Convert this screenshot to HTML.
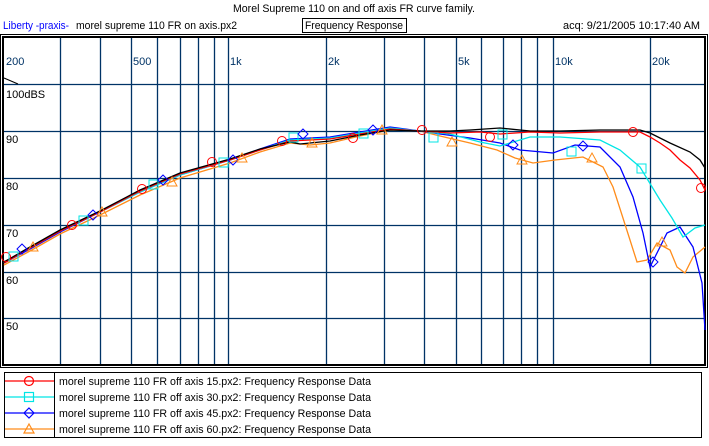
<!DOCTYPE html>
<html><head><meta charset="utf-8"><style>
body{margin:0;background:#fff;width:709px;height:441px;overflow:hidden;font-family:"Liberation Sans",sans-serif}
</style></head><body>
<svg width="709" height="441" xmlns="http://www.w3.org/2000/svg" font-family="Liberation Sans, sans-serif" font-size="11">
<rect width="709" height="441" fill="#fff"/>
<text x="233" y="12" textLength="242" lengthAdjust="spacingAndGlyphs" fill="#000">Morel Supreme 110 on and off axis FR curve family.</text>
<text x="3" y="29" textLength="66" lengthAdjust="spacingAndGlyphs" fill="#0000ff">Liberty -praxis-</text>
<text x="76" y="29" textLength="161" lengthAdjust="spacingAndGlyphs" fill="#000">morel supreme 110 FR on axis.px2</text>
<rect x="302.5" y="18.5" width="104" height="14" fill="none" stroke="#000"/>
<text x="305" y="29" textLength="98" lengthAdjust="spacingAndGlyphs" fill="#000">Frequency Response</text>
<text x="563" y="29" textLength="137" lengthAdjust="spacingAndGlyphs" fill="#000">acq: 9/21/2005 10:17:40 AM</text>
<rect x="0.5" y="34.5" width="707" height="333" fill="none" stroke="#000"/>
<rect x="3" y="37" width="702" height="328" fill="none" stroke="#000" stroke-width="2"/>
<g stroke="#003366" stroke-width="1.3">
<line x1="60.5" y1="38" x2="60.5" y2="364"/><line x1="100.5" y1="38" x2="100.5" y2="364"/><line x1="131.5" y1="38" x2="131.5" y2="364"/><line x1="157.5" y1="38" x2="157.5" y2="364"/><line x1="180.5" y1="38" x2="180.5" y2="364"/><line x1="198.5" y1="38" x2="198.5" y2="364"/><line x1="214.5" y1="38" x2="214.5" y2="364"/><line x1="228.5" y1="38" x2="228.5" y2="364"/><line x1="326.5" y1="38" x2="326.5" y2="364"/><line x1="384.5" y1="38" x2="384.5" y2="364"/><line x1="424.5" y1="38" x2="424.5" y2="364"/><line x1="456.5" y1="38" x2="456.5" y2="364"/><line x1="481.5" y1="38" x2="481.5" y2="364"/><line x1="503.5" y1="38" x2="503.5" y2="364"/><line x1="521.5" y1="38" x2="521.5" y2="364"/><line x1="537.5" y1="38" x2="537.5" y2="364"/><line x1="553.5" y1="38" x2="553.5" y2="364"/><line x1="650.5" y1="38" x2="650.5" y2="364"/>
<line x1="4" y1="84.5" x2="704" y2="84.5"/><line x1="4" y1="131.5" x2="704" y2="131.5"/><line x1="4" y1="178.5" x2="704" y2="178.5"/><line x1="4" y1="225.5" x2="704" y2="225.5"/><line x1="4" y1="272.5" x2="704" y2="272.5"/><line x1="4" y1="318.5" x2="704" y2="318.5"/>
</g>
<g fill="#003366">
<text x="6" y="65">200</text><text x="133" y="65">500</text><text x="230" y="65">1k</text><text x="328" y="65">2k</text><text x="458" y="65">5k</text><text x="555" y="65">10k</text><text x="652" y="65">20k</text>
</g>
<g fill="#000"><text x="6" y="98">100dBS</text><text x="6" y="143">90</text><text x="6" y="190">80</text><text x="6" y="237">70</text><text x="6" y="284">60</text><text x="6" y="330">50</text></g>
<path d="M4 78 L18 84" stroke="#000" fill="none"/>
<g fill="none" stroke-width="1.3">
<polyline stroke="#ff8c1a" points="4,265 30,251 60,234 100,215 140,195 180,178 230,163 260,152 290,143 310,145 330,143 360,136 390,130 420,131 440,136 470,143 497,150 515,158 533,163 555,160 583,157 603,167 613,187 622,215 630,240 637,262 647,260 657,243 670,250 677,267 685,273 693,257 705,247"/>
<polyline stroke="#0000ff" points="4,263 30,249 60,232 100,212 140,192 180,175 230,160 260,149 290,139 310,138 330,137 360,132 390,127 420,131 440,134 470,138 500,143 520,150 553,153 575,145 600,147 620,167 633,197 643,233 650,267 656,255 667,233 680,227 693,247 702,283 705,330"/>
<polyline stroke="#00e5e5" points="4,263 30,248 60,231 100,212 140,192 180,175 230,160 260,150 290,140 310,139 330,138 360,133 390,128 420,131 450,134 480,142 500,146 530,137 560,137 600,140 620,150 640,167 660,200 672,218 683,237 695,228 705,225"/>
<polyline stroke="#ff0000" points="4,263 30,248 60,231 100,212 140,191 180,174 230,160 260,150 290,141 310,140 330,139 360,134 390,129 420,131 450,133 480,132 500,134 530,132 560,133 600,132 640,132 650,137 660,143 670,150 680,160 690,168 700,180 705,190"/>
<polyline stroke="#000" points="4,262 30,247 60,230 100,211 140,190 180,173 230,159 260,149 290,142 300,144 330,141 360,135 390,130 420,131 450,131 470,130 500,128 530,131 560,131 600,130 640,130 650,133 660,138 670,143 690,152 700,160 705,168"/>
</g>
<g fill="none" stroke-width="1">
<g stroke="#ff0000"><circle cx="6" cy="257" r="4.5"/><circle cx="72" cy="225" r="4.5"/><circle cx="142" cy="189" r="4.5"/><circle cx="212" cy="162" r="4.5"/><circle cx="282" cy="141" r="4.5"/><circle cx="353" cy="138" r="4.5"/><circle cx="422" cy="130" r="4.5"/><circle cx="490" cy="137" r="4.5"/><circle cx="633" cy="132" r="4.5"/><circle cx="701" cy="188" r="4.5"/></g>
<g stroke="#00e5e5"><rect x="9" y="252" width="9" height="9"/><rect x="79" y="216" width="9" height="9"/><rect x="149" y="180" width="9" height="9"/><rect x="219" y="158" width="9" height="9"/><rect x="289" y="133" width="9" height="9"/><rect x="359" y="129" width="9" height="9"/><rect x="429" y="133" width="9" height="9"/><rect x="498" y="130" width="9" height="9"/><rect x="567" y="147" width="9" height="9"/><rect x="637" y="164" width="9" height="9"/></g>
<g stroke="#0000ff"><path d="M22 244 l5 5 -5 5 -5 -5z"/><path d="M93 210 l5 5 -5 5 -5 -5z"/><path d="M163 175 l5 5 -5 5 -5 -5z"/><path d="M233 155 l5 5 -5 5 -5 -5z"/><path d="M303 129 l5 5 -5 5 -5 -5z"/><path d="M373 125 l5 5 -5 5 -5 -5z"/><path d="M513 140 l5 5 -5 5 -5 -5z"/><path d="M583 141 l5 5 -5 5 -5 -5z"/><path d="M653 257 l5 5 -5 5 -5 -5z"/></g>
<g stroke="#ff8c1a"><path d="M33 242 l5 9 h-10z"/><path d="M102 207 l5 9 h-10z"/><path d="M172 177 l5 9 h-10z"/><path d="M242 153 l5 9 h-10z"/><path d="M312 138 l5 9 h-10z"/><path d="M382 125 l5 9 h-10z"/><path d="M452 137 l5 9 h-10z"/><path d="M522 155 l5 9 h-10z"/><path d="M592 153 l5 9 h-10z"/><path d="M662 237 l5 9 h-10z"/></g>
</g>
<rect x="4.5" y="372.5" width="697" height="65" fill="none" stroke="#000"/>
<line x1="54.5" y1="373" x2="54.5" y2="437" stroke="#000"/>
<g stroke-width="1.2" fill="none">
<line x1="5" y1="381" x2="54" y2="381" stroke="#ff0000"/><circle cx="29" cy="381" r="4.5" stroke="#ff0000"/>
<line x1="5" y1="397" x2="54" y2="397" stroke="#00e5e5"/><rect x="24.5" y="392.5" width="9" height="9" stroke="#00e5e5"/>
<line x1="5" y1="413" x2="54" y2="413" stroke="#0000ff"/><path d="M29 408 l5 5 -5 5 -5 -5z" stroke="#0000ff"/>
<line x1="5" y1="429" x2="54" y2="429" stroke="#ff8c1a"/><path d="M29 424 l5 9 h-10z" stroke="#ff8c1a"/>
</g>
<g fill="#000">
<text x="59" y="385" textLength="312" lengthAdjust="spacingAndGlyphs">morel supreme 110 FR off axis 15.px2:  Frequency Response Data</text>
<text x="59" y="401" textLength="312" lengthAdjust="spacingAndGlyphs">morel supreme 110 FR off axis 30.px2:  Frequency Response Data</text>
<text x="59" y="417" textLength="312" lengthAdjust="spacingAndGlyphs">morel supreme 110 FR off axis 45.px2:  Frequency Response Data</text>
<text x="59" y="433" textLength="312" lengthAdjust="spacingAndGlyphs">morel supreme 110 FR off axis 60.px2:  Frequency Response Data</text>
</g>
</svg>
</body></html>
